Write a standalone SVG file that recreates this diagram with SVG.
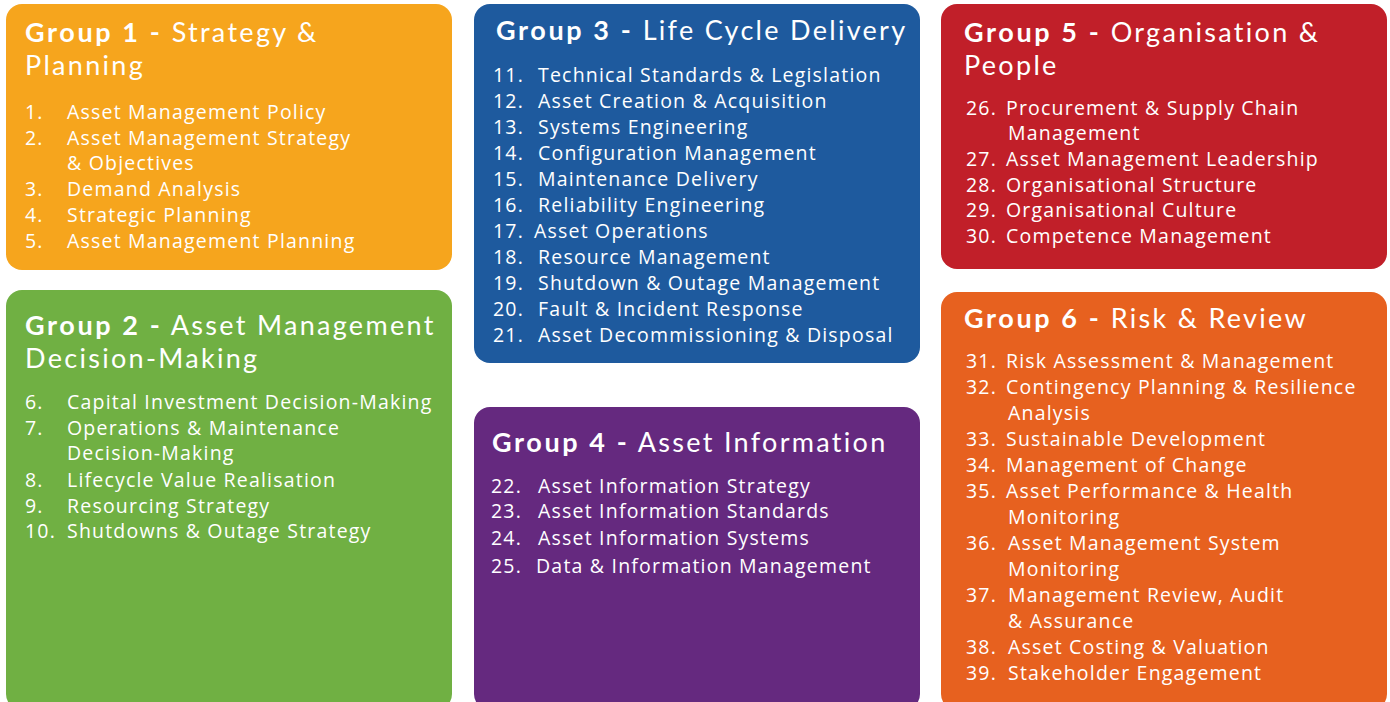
<svg xmlns="http://www.w3.org/2000/svg" width="1390" height="702" viewBox="0 0 1390 702">
<style>
.box{stroke:none}
.t{font-family:Lato,"Open Sans","DejaVu Sans",sans-serif;font-size:27px;letter-spacing:2.3px;fill:#fff}
.t .b{font-weight:bold;letter-spacing:2.6px}
.i{font-family:"Open Sans","Noto Sans","DejaVu Sans",sans-serif;font-size:19.5px;letter-spacing:1.2px;fill:#fff}
</style>
<rect width="1390" height="702" fill="#fff"/>
<g id="group1">
<rect class="box" x="6" y="4" width="446" height="266" rx="16" fill="#F6A51D"/>
<text class="t" x="25" y="42"><tspan class="b">Group 1 -</tspan> Strategy &amp;<tspan x="25" y="75">Planning</tspan></text>
<g class="i">
<text x="25" y="119">1.</text><text x="67" y="119">Asset Management Policy</text>
<text x="25" y="145">2.</text><text x="67" y="145">Asset Management Strategy</text>
<text x="67" y="170">&amp; Objectives</text>
<text x="25" y="196">3.</text><text x="67" y="196">Demand Analysis</text>
<text x="25" y="222">4.</text><text x="67" y="222">Strategic Planning</text>
<text x="25" y="248">5.</text><text x="67" y="248">Asset Management Planning</text>
</g>
</g>
<g id="group2">
<rect class="box" x="6" y="290" width="446" height="420" rx="16" fill="#70B043"/>
<text class="t" x="25" y="335"><tspan class="b">Group 2 -</tspan> Asset Management<tspan x="25" y="368">Decision-Making</tspan></text>
<g class="i">
<text x="25" y="409">6.</text><text x="67" y="409">Capital Investment Decision-Making</text>
<text x="25" y="435">7.</text><text x="67" y="435">Operations &amp; Maintenance</text>
<text x="67" y="460">Decision-Making</text>
<text x="25" y="487">8.</text><text x="67" y="487">Lifecycle Value Realisation</text>
<text x="25" y="513">9.</text><text x="67" y="513">Resourcing Strategy</text>
<text x="25" y="538">10.</text><text x="67" y="538">Shutdowns &amp; Outage Strategy</text>
</g>
</g>
<g id="group3">
<rect class="box" x="474" y="4" width="446" height="359" rx="16" fill="#1E5A9E"/>
<text class="t" x="496" y="40"><tspan class="b">Group 3 -</tspan> Life Cycle Delivery</text>
<g class="i">
<text x="493" y="82">11.</text><text x="538" y="82">Technical Standards &amp; Legislation</text>
<text x="493" y="108">12.</text><text x="538" y="108">Asset Creation &amp; Acquisition</text>
<text x="493" y="134">13.</text><text x="538" y="134">Systems Engineering</text>
<text x="493" y="160">14.</text><text x="538" y="160">Configuration Management</text>
<text x="493" y="186">15.</text><text x="538" y="186">Maintenance Delivery</text>
<text x="493" y="212">16.</text><text x="538" y="212">Reliability Engineering</text>
<text x="493" y="238">17.</text><text x="534" y="238">Asset Operations</text>
<text x="493" y="264">18.</text><text x="538" y="264">Resource Management</text>
<text x="493" y="290">19.</text><text x="538" y="290">Shutdown &amp; Outage Management</text>
<text x="493" y="316">20.</text><text x="538" y="316">Fault &amp; Incident Response</text>
<text x="493" y="342">21.</text><text x="538" y="342">Asset Decommissioning &amp; Disposal</text>
</g>
</g>
<g id="group4">
<rect class="box" x="474" y="407" width="446" height="303" rx="16" fill="#65297F"/>
<text class="t" x="492" y="452"><tspan class="b">Group 4 -</tspan> Asset Information</text>
<g class="i">
<text x="491" y="493">22.</text><text x="538" y="493">Asset Information Strategy</text>
<text x="491" y="518">23.</text><text x="538" y="518">Asset Information Standards</text>
<text x="491" y="545">24.</text><text x="538" y="545">Asset Information Systems</text>
<text x="491" y="573">25.</text><text x="536" y="573">Data &amp; Information Management</text>
</g>
</g>
<g id="group5">
<rect class="box" x="941" y="4" width="446" height="265" rx="16" fill="#C11F29"/>
<text class="t" x="964" y="42"><tspan class="b">Group 5 -</tspan> Organisation &amp;<tspan x="964" y="75">People</tspan></text>
<g class="i">
<text x="966" y="115">26.</text><text x="1006" y="115">Procurement &amp; Supply Chain</text>
<text x="1008" y="140">Management</text>
<text x="966" y="166">27.</text><text x="1006" y="166">Asset Management Leadership</text>
<text x="966" y="192">28.</text><text x="1006" y="192">Organisational Structure</text>
<text x="966" y="217">29.</text><text x="1006" y="217">Organisational Culture</text>
<text x="966" y="243">30.</text><text x="1006" y="243">Competence Management</text>
</g>
</g>
<g id="group6">
<rect class="box" x="941" y="292" width="446" height="418" rx="16" fill="#E7611F"/>
<text class="t" x="964" y="328"><tspan class="b">Group 6 -</tspan> Risk &amp; Review</text>
<g class="i">
<text x="966" y="368">31.</text><text x="1006" y="368">Risk Assessment &amp; Management</text>
<text x="966" y="394">32.</text><text x="1006" y="394">Contingency Planning &amp; Resilience</text>
<text x="1008" y="420">Analysis</text>
<text x="966" y="446">33.</text><text x="1006" y="446">Sustainable Development</text>
<text x="966" y="472">34.</text><text x="1006" y="472">Management of Change</text>
<text x="966" y="498">35.</text><text x="1006" y="498">Asset Performance &amp; Health</text>
<text x="1008" y="524">Monitoring</text>
<text x="966" y="550">36.</text><text x="1008" y="550">Asset Management System</text>
<text x="1008" y="576">Monitoring</text>
<text x="966" y="602">37.</text><text x="1008" y="602">Management Review, Audit</text>
<text x="1008" y="628">&amp; Assurance</text>
<text x="966" y="654">38.</text><text x="1008" y="654">Asset Costing &amp; Valuation</text>
<text x="966" y="680">39.</text><text x="1008" y="680">Stakeholder Engagement</text>
</g>
</g>
<g id="connectors"/>
</svg>
